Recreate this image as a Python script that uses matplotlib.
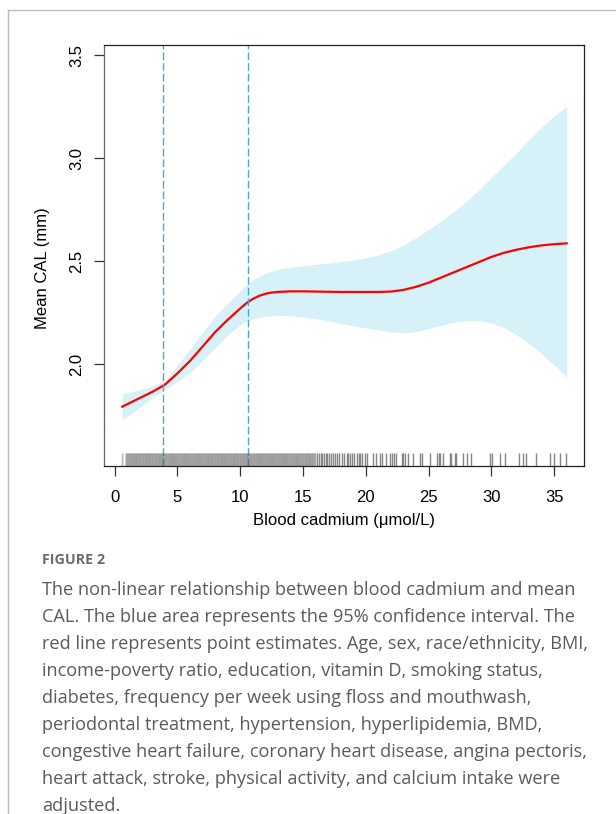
import matplotlib
matplotlib.use('Agg')
import matplotlib.pyplot as plt
from matplotlib.lines import Line2D

# spline fit of mean CAL against blood cadmium, with 95% CI
cd = [0.6, 1, 2, 3, 4, 5, 6, 7, 8, 9, 10, 10.5, 11, 11.5, 12, 12.5, 13, 14,
      15, 16, 17, 18, 19, 20, 21, 22, 23, 24, 25, 26, 27, 28, 29, 30, 31, 32,
      33, 34, 35, 36]
fit = [1.793, 1.805, 1.835, 1.865, 1.900, 1.955, 2.015, 2.085, 2.155, 2.215,
       2.270, 2.296, 2.316, 2.331, 2.341, 2.347, 2.350, 2.353, 2.353, 2.352,
       2.351, 2.350, 2.350, 2.350, 2.350, 2.352, 2.360, 2.375, 2.395, 2.420,
       2.445, 2.470, 2.495, 2.520, 2.540, 2.555, 2.567, 2.576, 2.582, 2.586]
upper = [1.858, 1.860, 1.875, 1.893, 1.920, 1.995, 2.070, 2.155, 2.230, 2.295,
         2.355, 2.385, 2.408, 2.426, 2.440, 2.451, 2.460, 2.470, 2.478, 2.484,
         2.490, 2.497, 2.505, 2.515, 2.530, 2.550, 2.578, 2.613, 2.653, 2.695,
         2.740, 2.790, 2.845, 2.905, 2.965, 3.025, 3.090, 3.150, 3.205, 3.250]
lower = [1.728, 1.745, 1.790, 1.838, 1.875, 1.915, 1.960, 2.015, 2.080, 2.140,
         2.190, 2.208, 2.220, 2.227, 2.231, 2.234, 2.235, 2.235, 2.228, 2.220,
         2.210, 2.197, 2.186, 2.175, 2.165, 2.156, 2.152, 2.158, 2.172, 2.188,
         2.202, 2.210, 2.211, 2.200, 2.177, 2.142, 2.100, 2.050, 1.995, 1.935]

# cut points
knots = [3.81, 10.58]

# observed cadmium values for the rug
rug_dense = [0.63, 0.92, 1.01, 1.09, 1.18, 1.27, 1.35, 1.44, 1.52, 1.61, 1.70,
             1.78, 1.87, 1.96, 2.04, 2.13, 2.22, 2.30, 2.39, 2.48, 2.56, 2.65,
             2.74, 2.82, 2.91, 3.00, 3.08, 3.17, 3.26, 3.34, 3.43, 3.52, 3.60,
             3.69, 3.78, 3.86, 3.95, 4.04, 4.12, 4.21, 4.30, 4.38, 4.47, 4.56,
             4.64, 4.73, 4.82, 4.90, 4.99, 5.08, 5.16, 5.25, 5.34, 5.42, 5.51,
             5.60, 5.68, 5.77, 5.86, 5.94, 6.03, 6.12, 6.20, 6.29, 6.38, 6.46,
             6.55, 6.64, 6.72, 6.81, 6.90, 6.98, 7.07, 7.16, 7.24, 7.33, 7.42,
             7.50, 7.59, 7.68, 7.76, 7.85, 7.94, 8.02, 8.11, 8.20, 8.28, 8.37,
             8.46, 8.54, 8.63, 8.72, 8.80, 8.89, 8.98, 9.06, 9.15, 9.24, 9.32,
             9.41, 9.50, 9.58, 9.67, 9.76, 9.84, 9.93, 10.02, 10.10, 10.19,
             10.28, 10.36, 10.45, 10.54, 10.62, 10.71, 10.80, 10.88, 10.97,
             11.06, 11.14, 11.23, 11.32, 11.40, 11.49, 11.58, 11.66, 11.75,
             11.84, 11.92, 12.01, 12.10, 12.18, 12.27, 12.36, 12.44, 12.53,
             12.62, 12.70, 12.79, 12.88, 12.96, 13.05, 13.14, 13.22, 13.31,
             13.40, 13.48, 13.57, 13.66, 13.74, 13.83, 13.92, 14.00, 14.09,
             14.18, 14.26, 14.35, 14.44, 14.52, 14.61, 14.70, 14.78, 14.87,
             14.96, 15.04, 15.13, 15.22, 15.30, 15.39, 15.48, 15.56, 15.65,
             15.74, 15.82, 15.91, 16.00]
rug_sparse = [16.10, 16.25, 16.40, 16.55, 16.65, 16.80, 16.95, 17.10, 17.20,
              17.40, 17.55, 17.70, 17.83, 18.10, 18.30, 18.50, 18.60, 18.75,
              18.90, 19.10, 19.30, 19.45, 19.55, 19.70, 19.90, 20.10, 20.60,
              20.80, 21.10, 21.30, 21.60, 21.95, 22.10, 22.25, 22.40, 22.90,
              23.00, 23.10, 23.40, 23.80, 24.30, 24.50, 25.10, 25.65, 25.80,
              25.90, 26.15, 26.70, 26.80, 27.10, 27.22, 27.75, 28.06, 28.36,
              29.92, 30.05, 30.71, 31.06, 32.19, 32.51, 32.78, 33.57, 34.68,
              35.02, 35.50, 35.95]

x_ticks = [0, 5, 10, 15, 20, 25, 30, 35]
y_ticks = [2.0, 2.5, 3.0, 3.5]

caption_head = 'FIGURE 2'
caption_lines = [
    'The non-linear relationship between blood cadmium and mean',
    'CAL. The blue area represents the 95% confidence interval. The',
    'red line represents point estimates. Age, sex, race/ethnicity, BMI,',
    'income-poverty ratio, education, vitamin D, smoking status,',
    'diabetes, frequency per week using floss and mouthwash,',
    'periodontal treatment, hypertension, hyperlipidemia, BMD,',
    'congestive heart failure, coronary heart disease, angina pectoris,',
    'heart attack, stroke, physical activity, and calcium intake were',
    'adjusted.',
]

W, H = 616, 814
fig = plt.figure(figsize=(W / 100, H / 100), dpi=100)
plt.rcParams['font.family'] = ['Liberation Sans', 'DejaVu Sans']

ax = fig.add_axes([104 / W, 1 - 466 / H, 480 / W, 421 / H])
ax.fill_between(cd, lower, upper, color='#d6f1f8', linewidth=0)
ax.plot(cd, fit, color='#ff0000', linewidth=1.6, solid_joinstyle='round')
for k in knots:
    ax.axvline(k, color='#4fa8c4', linewidth=1.0, dashes=(5.5, 2.2))
ax.vlines(rug_dense, 0, 0.03, transform=ax.get_xaxis_transform(),
          color='#555555', linewidth=1.3, alpha=0.4, snap=False)
ax.vlines(rug_sparse, 0, 0.03, transform=ax.get_xaxis_transform(),
          color='#858585', linewidth=1.0)

ax.set_xlim(-0.85, 37.38)
ax.set_ylim(1.505, 3.549)
ax.set_xticks(x_ticks)
ax.set_xticklabels([str(v) for v in x_ticks])
ax.set_yticks(y_ticks)
ax.set_yticklabels(['%.1f' % v for v in y_ticks], rotation=90, va='center')
ax.tick_params(direction='out', length=7.2, width=0.9, labelsize=12,
               color='#333333')
ax.tick_params(axis='x', pad=10)
ax.tick_params(axis='y', pad=7)
for sp in ax.spines.values():
    sp.set_linewidth(0.9)
    sp.set_color('#222222')
ax.spines['left'].set_color('#666666')

ax.set_xlabel('Blood cadmium (\u03bcmol/L)', fontsize=12, labelpad=6)
ax.set_ylabel('Mean CAL (mm)', fontsize=12)
ax.yaxis.set_label_coords(-0.1125, 0.47)

# page frame
fig.add_artist(Line2D([8 / W, 1], [1 - 10 / H] * 2, color='#bdbdbd',
                      linewidth=1, transform=fig.transFigure))
fig.add_artist(Line2D([8 / W] * 2, [0, 1 - 10 / H], color='#bdbdbd',
                      linewidth=1, transform=fig.transFigure))

cap_font = ['Open Sans', 'DejaVu Sans']
fig.text(42 / W, 1 - 560 / H, caption_head, fontsize=10.3, fontweight='bold',
         color='#6b6b6b', va='center', family=cap_font)
for i, line in enumerate(caption_lines):
    fig.text(42 / W, 1 - (590 + 27 * i) / H, line, fontsize=13.1,
             color='#5a5a5a', va='center', family=cap_font)

fig.savefig('out.png', dpi=100)
